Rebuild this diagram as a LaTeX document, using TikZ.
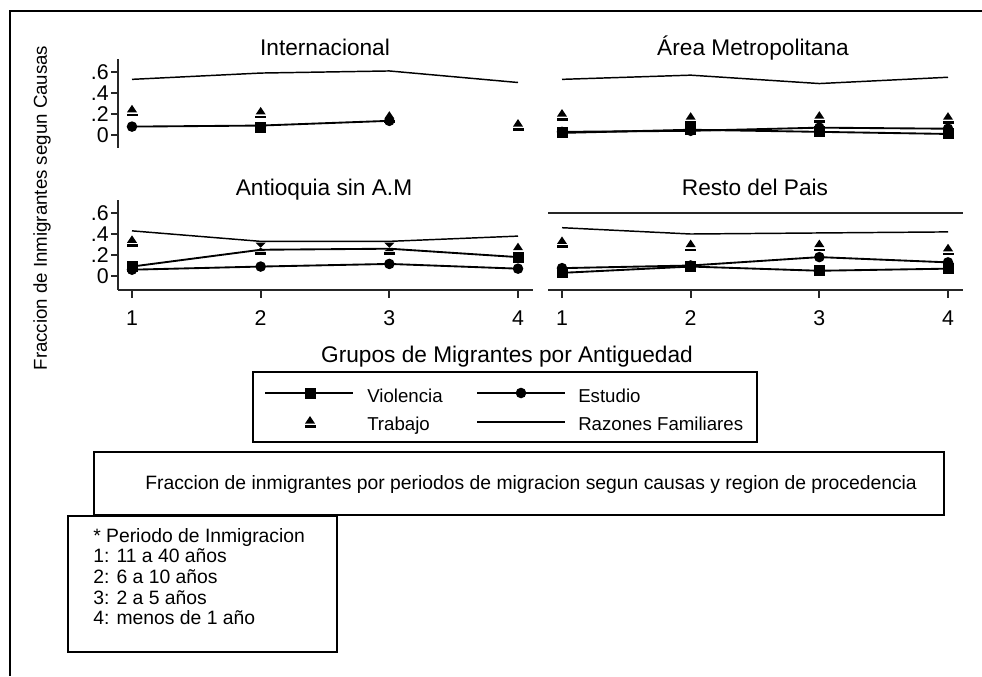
\documentclass[tikz,border=0pt]{standalone}
\usepackage{fontspec}
\setmainfont{Liberation Sans}
\newcommand\mkser[4]{\foreach \v [count=\i] in {#4} {\coordinate (#1\i) at ({#2(\i)},{#3(\v)});}}
\begin{document}
\begin{tikzpicture}[x=0.75pt,y=-0.75pt,
  declare function={ty(\v)=135-105*\v; by(\v)=276-105*\v; xl(\i)=3.333+128.667*\i; xr(\i)=433.333+128.667*\i;},
  dline/.style={line width=1.4pt, black},
  rline/.style={line width=1.1pt, black},
  axis/.style={line width=1.3pt, draw=black!85},
  ttl/.style={font=\fontsize{17}{20}\selectfont, inner sep=0},
  ticklab/.style={font=\fontsize{16}{18}\selectfont, inner sep=0},
  small/.style={font=\fontsize{14}{16}\selectfont, inner sep=0},
  note/.style={font=\fontsize{14.5}{16}\selectfont, inner sep=0},
  sqm/.pic={\fill (-5.5,-5.5) rectangle (5.5,5.5);},
  cim/.pic={\fill (0,0) circle (5.3);},
  trm/.pic={\fill (-5,1.5) -- (0,-6) -- (5,1.5) -- cycle; \fill (-5.5,3) rectangle (5.5,5.5);},
  bwm/.pic={\fill (-5,-6) -- (5,-6) -- (0,-1) -- cycle; \fill (-5,2.5) -- (5,2.5) -- (0,-1) -- cycle; \fill (-5.5,3.5) rectangle (5.5,6);}
]
\useasboundingbox (0,0) rectangle (982,676);
% outer frame
\draw[line width=2.2pt] (982,11) -- (10,11) -- (10,676);

% ---------- axes ----------
\draw[axis] (118,59) -- (118,148);
\draw[axis] (118,200) -- (118,290);
\foreach \v/\t in {0/0,0.2/.2,0.4/.4,0.6/.6} {
  \draw[axis] (111,{ty(\v)}) -- (118,{ty(\v)});
  \node[ticklab,anchor=east] at (109,{ty(\v)}) {\t};
  \draw[axis] (111,{by(\v)}) -- (118,{by(\v)});
  \node[ticklab,anchor=east] at (109,{by(\v)}) {\t};
}
\draw[axis] (118,290) -- (533,290);
\draw[axis] (548,290) -- (963,290);
\foreach \i in {1,2,3,4} {
  \draw[axis] ({xl(\i)},290) -- ({xl(\i)},298);
  \node[ticklab,anchor=base] at ({xl(\i)},325) {\i};
  \draw[axis] ({xr(\i)},290) -- ({xr(\i)},298);
  \node[ticklab,anchor=base] at ({xr(\i)},325) {\i};
}
\draw[axis] (548,213) -- (963,213);

% ---------- titles ----------
\node[ttl,anchor=base] (t1) at (325,55) {Internacional};
\node[ttl,anchor=base] (t2) at (753,55) {Área Metropolitana};
\node[ttl,anchor=base] (t3) at (324,195) {Antioquia sin A.M};
\node[ttl,anchor=base] (t4) at (755,195) {Resto del Pais};
\node[small,rotate=90] (ytitle) at (42,208) {Fraccion de Inmigrantes segun Causas};

% ---------- Internacional ----------
\mkser{IR}{xl}{ty}{0.53,0.59,0.61,0.50}
\mkser{IT}{xl}{ty}{0.23,0.21,0.17,0.095}
\mkser{IE}{xl}{ty}{0.08,0.09,0.135}
\coordinate (IV2) at ({xl(2)},{ty(0.07)});
\draw[rline] (IR1) -- (IR2) -- (IR3) -- (IR4);
\draw[dline] (IE1) -- (IE2) -- (IE3);
\pic at (IE1) {cim}; \pic at (IE3) {cim}; \pic at (IV2) {sqm};
\foreach \c in {IT1,IT2,IT3,IT4} \pic at (\c) {trm};

% ---------- Area Metropolitana ----------
\mkser{AR}{xr}{ty}{0.53,0.57,0.49,0.55}
\mkser{AT}{xr}{ty}{0.19,0.16,0.17,0.16}
\mkser{AV}{xr}{ty}{0.02,0.05,0.03,0.01}
\mkser{AE}{xr}{ty}{0.03,0.04,0.07,0.06}
\draw[rline] (AR1) -- (AR2) -- (AR3) -- (AR4);
\draw[dline] (AV1) -- (AV2) -- (AV3) -- (AV4);
\draw[dline] (AE1) -- (AE2) -- (AE3) -- (AE4);
\foreach \c in {AE1,AE2,AE3,AE4} \pic at (\c) {cim};
\foreach \c in {AV1,AV2,AV3,AV4} \pic at (\c) {sqm};
\foreach \c in {AT1,AT2,AT3,AT4} \pic at (\c) {trm};

% ---------- Antioquia sin A.M ----------
\mkser{BR}{xl}{by}{0.43,0.33,0.33,0.38}
\mkser{BV}{xl}{by}{0.09,0.25,0.26,0.18}
\mkser{BE}{xl}{by}{0.06,0.09,0.115,0.07}
\mkser{BT}{xl}{by}{0.33,0.26,0.26,0.26}
\draw[rline] (BR1) -- (BR2) -- (BR3) -- (BR4);
\draw[dline] (BV1) -- (BV2) -- (BV3) -- (BV4);
\draw[dline] (BE1) -- (BE2) -- (BE3) -- (BE4);
\foreach \c in {BE1,BE2,BE3,BE4} \pic at (\c) {cim};
\pic at (BV1) {sqm}; \pic at (BV4) {sqm};
\pic at (BT1) {trm}; \pic at (BT4) {trm};
\pic at (BT2) {bwm}; \pic at (BT3) {bwm};

% ---------- Resto del Pais ----------
\mkser{RR}{xr}{by}{0.46,0.40,0.41,0.42}
\mkser{RT}{xr}{by}{0.32,0.29,0.29,0.25}
\mkser{RE}{xr}{by}{0.075,0.10,0.18,0.13}
\mkser{RV}{xr}{by}{0.03,0.09,0.05,0.07}
\draw[rline] (RR1) -- (RR2) -- (RR3) -- (RR4);
\draw[dline] (RV1) -- (RV2) -- (RV3) -- (RV4);
\draw[dline] (RE1) -- (RE2) -- (RE3) -- (RE4);
\foreach \c in {RE1,RE2,RE3,RE4} \pic at (\c) {cim};
\foreach \c in {RV1,RV2,RV3,RV4} \pic at (\c) {sqm};
\foreach \c in {RT1,RT2,RT3,RT4} \pic at (\c) {trm};

% ---------- legend ----------
\node[ttl,anchor=base] (xtitle) at (507,362) {Grupos de Migrantes por Antiguedad};
\node[draw,line width=1.2pt,minimum width=378pt,minimum height=52.5pt,inner sep=0] (leg) at (505,407) {};
\coordinate (lv1) at (265,393); \coordinate (lv2) at (353,393); \coordinate (lvm) at (310,393);
\coordinate (le1) at (477,393); \coordinate (le2) at (565,393); \coordinate (lem) at (521,393);
\coordinate (ltm) at (310,422);
\coordinate (lr1) at (477,422); \coordinate (lr2) at (565,422);
\draw[dline] (lv1) -- (lv2); \pic at (lvm) {sqm};
\draw[dline] (le1) -- (le2); \pic at (lem) {cim};
\pic at (ltm) {trm};
\draw[rline] (lr1) -- (lr2);
\node[small,anchor=base west] (lvt) at (367,402) {Violencia};
\node[small,anchor=base west] (let) at (578,402) {Estudio};
\node[small,anchor=base west] (ltt) at (367,430) {Trabajo};
\node[small,anchor=base west] (lrt) at (578,430) {Razones Familiares};

% ---------- caption box ----------
\node[draw,line width=1pt,minimum width=637.5pt,minimum height=47.25pt,inner sep=0] (cap) at (519,483.5) {};
\node[note,anchor=base west] (capt) at (145,489) {Fraccion de inmigrantes por periodos de migracion segun causas y region de procedencia};

% ---------- note box ----------
\node[draw,line width=1pt,minimum width=201.75pt,minimum height=102pt,inner sep=0] (nb) at (202.5,584) {};
\node[note,anchor=base west] (n0) at (93,542) {* Periodo de Inmigracion};
\node[note,anchor=base west] (n1) at (93,562.7) {1: 11 a 40 años};
\node[note,anchor=base west] (n2) at (93,583.4) {2: 6 a 10 años};
\node[note,anchor=base west] (n3) at (93,604.1) {3: 2 a 5 años};
\node[note,anchor=base west] (n4) at (93,624.8) {4: menos de 1 año};
\end{tikzpicture}
\end{document}
